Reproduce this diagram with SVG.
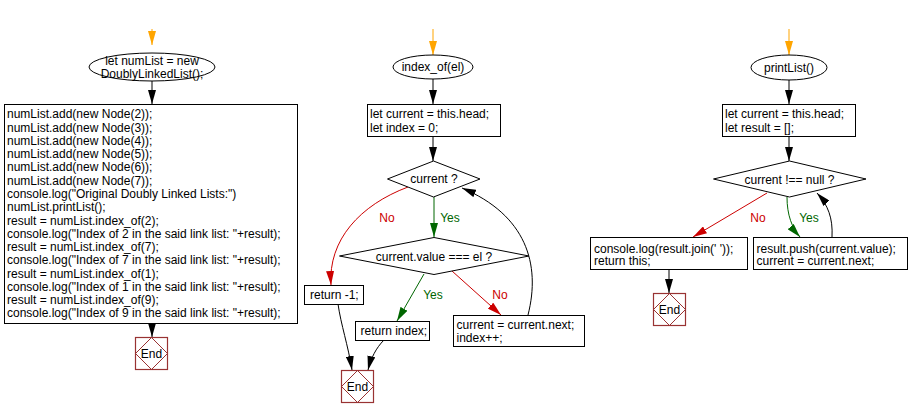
<svg xmlns="http://www.w3.org/2000/svg" width="910" height="417" viewBox="0 0 910 417">
<style>
text{font-family:"Liberation Sans",Arial,sans-serif;font-size:12px;fill:#000}
.c{text-anchor:middle}
.shape{fill:#fff;stroke:#000;stroke-width:1}
.end{fill:#fff;stroke:#993333;stroke-width:1.2}
.endd{fill:none;stroke:#993333;stroke-width:1}
.k{fill:none;stroke:#000;stroke-width:1;marker-end:url(#ak)}
.o{fill:none;stroke:#ffa500;stroke-width:1;marker-end:url(#ao)}
.r{fill:none;stroke:#cc0000;stroke-width:1;marker-end:url(#ar)}
.g{fill:none;stroke:#006600;stroke-width:1;marker-end:url(#ag)}
.ry{fill:#cc0000}
.gy{fill:#006600}
</style>
<defs>
<marker id="ak" viewBox="0 0 14 8" markerWidth="14" markerHeight="8" refX="14" refY="4" orient="auto" markerUnits="userSpaceOnUse"><path d="M0,0 L14,4 L0,8 z" fill="#000"/></marker>
<marker id="ao" viewBox="0 0 14 8" markerWidth="14" markerHeight="8" refX="14" refY="4" orient="auto" markerUnits="userSpaceOnUse"><path d="M0,0 L14,4 L0,8 z" fill="#ffa500"/></marker>
<marker id="ar" viewBox="0 0 14 8" markerWidth="14" markerHeight="8" refX="14" refY="4" orient="auto" markerUnits="userSpaceOnUse"><path d="M0,0 L14,4 L0,8 z" fill="#cc0000"/></marker>
<marker id="ag" viewBox="0 0 14 8" markerWidth="14" markerHeight="8" refX="14" refY="4" orient="auto" markerUnits="userSpaceOnUse"><path d="M0,0 L14,4 L0,8 z" fill="#006600"/></marker>
</defs>
<rect width="910" height="417" fill="#fff"/>

<g id="connectors">
<path class="o" d="M152,29 L152,45"/>
<path class="k" d="M152,81 L152,104"/>
<path class="k" d="M152,323 L152,337"/>
<path class="o" d="M433,29 L433,55"/>
<path class="k" d="M433,79 L433,104"/>
<path class="k" d="M433,137 L433,161"/>
<path class="g" d="M434,197 L434,237"/>
<path class="r" d="M408,187 C360,205 328,240 331,285"/>
<path class="g" d="M424,274 L397,321"/>
<path class="r" d="M452,271 L501,315"/>
<path class="k" d="M528,315 C541,264 526,215 462,188"/>
<path class="k" d="M338,304 C341,325 348,345 352,370"/>
<path class="k" d="M384,340 C376,348 371,358 368,370"/>
<path class="o" d="M789,29 L789,55"/>
<path class="k" d="M789,80 L789,104"/>
<path class="k" d="M789,137 L789,161"/>
<path class="r" d="M767,193 L693,237"/>
<path class="g" d="M787,197 C787,215 792,228 800,237"/>
<path class="k" d="M832,237 C833,218 828,205 817,193"/>
<path class="k" d="M669,269 L669,293"/>
<text class="c ry" x="387" y="221.5">No</text>
<text class="c gy" x="450" y="221.5">Yes</text>
<text class="c gy" x="433" y="298.5">Yes</text>
<text class="c ry" x="500" y="298.5">No</text>
<text class="c ry" x="758" y="222">No</text>
<text class="c gy" x="809" y="222">Yes</text>
</g>

<g id="start1">
<ellipse class="shape" cx="152" cy="67" rx="63" ry="14"/>
<text class="c" x="152" y="65">let numList = new</text>
<text class="c" x="152" y="77.5">DoublyLinkedList();</text>
</g>
<g id="main">
<rect class="shape" x="4.5" y="104.5" width="293" height="219"/>
<text x="7" y="118.3">numList.add(new Node(2));</text>
<text x="7" y="131.6">numList.add(new Node(3));</text>
<text x="7" y="144.8">numList.add(new Node(4));</text>
<text x="7" y="158.1">numList.add(new Node(5));</text>
<text x="7" y="171.4">numList.add(new Node(6));</text>
<text x="7" y="184.7">numList.add(new Node(7));</text>
<text x="7" y="197.9">console.log("Original Doubly Linked Lists:")</text>
<text x="7" y="211.2">numList.printList();</text>
<text x="7" y="224.5">result = numList.index_of(2);</text>
<text x="7" y="237.7">console.log("Index of 2 in the said link list: "+result);</text>
<text x="7" y="251">result = numList.index_of(7);</text>
<text x="7" y="264.3">console.log("Index of 7 in the said link list: "+result);</text>
<text x="7" y="277.5">result = numList.index_of(1);</text>
<text x="7" y="290.8">console.log("Index of 1 in the said link list: "+result);</text>
<text x="7" y="304.1">result = numList.index_of(9);</text>
<text x="7" y="317.3">console.log("Index of 9 in the said link list: "+result);</text>
</g>
<g id="end1">
<rect class="end" x="135.5" y="337.5" width="32" height="32"/>
<path class="endd" d="M151.5,337.5 L167.5,353.5 L151.5,369.5 L135.5,353.5 z"/>
<text class="c" x="151.5" y="357.5">End</text>
</g>

<g id="start2">
<ellipse class="shape" cx="433" cy="67" rx="40" ry="12"/>
<text class="c" x="433" y="71">index_of(el)</text>
</g>
<g id="init2">
<rect class="shape" x="367.5" y="104.5" width="133" height="32"/>
<text x="370" y="118">let current = this.head;</text>
<text x="370" y="131.5">let index = 0;</text>
</g>
<g id="cond2">
<path class="shape" d="M433.5,161 L480,179 L433.5,197 L387.5,179 z"/>
<text class="c" x="434" y="183">current ?</text>
</g>
<g id="cond3">
<path class="shape" d="M434,237.5 L529,256 L434,274.5 L339.5,256 z"/>
<text class="c" x="434" y="260.5">current.value === el ?</text>
</g>
<g id="retm1">
<rect class="shape" x="304.5" y="285.5" width="59" height="19"/>
<text x="310" y="299">return -1;</text>
</g>
<g id="retidx">
<rect class="shape" x="355.5" y="321.5" width="74" height="19"/>
<text x="360.5" y="335">return index;</text>
</g>
<g id="next2">
<rect class="shape" x="453.5" y="315.5" width="131" height="31"/>
<text x="456.5" y="329">current = current.next;</text>
<text x="456.5" y="341.5">index++;</text>
</g>
<g id="end2">
<rect class="end" x="341.5" y="370.5" width="32" height="32"/>
<path class="endd" d="M357.5,370.5 L373.5,386.5 L357.5,402.5 L341.5,386.5 z"/>
<text class="c" x="357.5" y="390.5">End</text>
</g>

<g id="start3">
<ellipse class="shape" cx="789" cy="67.5" rx="38" ry="12.5"/>
<text class="c" x="789" y="71.5">printList()</text>
</g>
<g id="init3">
<rect class="shape" x="722.5" y="104.5" width="133" height="32"/>
<text x="725" y="118">let current = this.head;</text>
<text x="725" y="131.5">let result = [];</text>
</g>
<g id="cond4">
<path class="shape" d="M789.5,161 L866,179 L789.5,197 L713.5,179 z"/>
<text class="c" x="789.5" y="183.5">current !== null ?</text>
</g>
<g id="log3">
<rect class="shape" x="590.5" y="237.5" width="157" height="32"/>
<text x="594" y="252.5">console.log(result.join(' '));</text>
<text x="594" y="265">return this;</text>
</g>
<g id="push3">
<rect class="shape" x="753.5" y="237.5" width="154" height="32"/>
<text x="756.5" y="252.5">result.push(current.value);</text>
<text x="756.5" y="265">current = current.next;</text>
</g>
<g id="end3">
<rect class="end" x="653.5" y="293.5" width="32" height="32"/>
<path class="endd" d="M669.5,293.5 L685.5,309.5 L669.5,325.5 L653.5,309.5 z"/>
<text class="c" x="669.5" y="314">End</text>
</g>
</svg>
